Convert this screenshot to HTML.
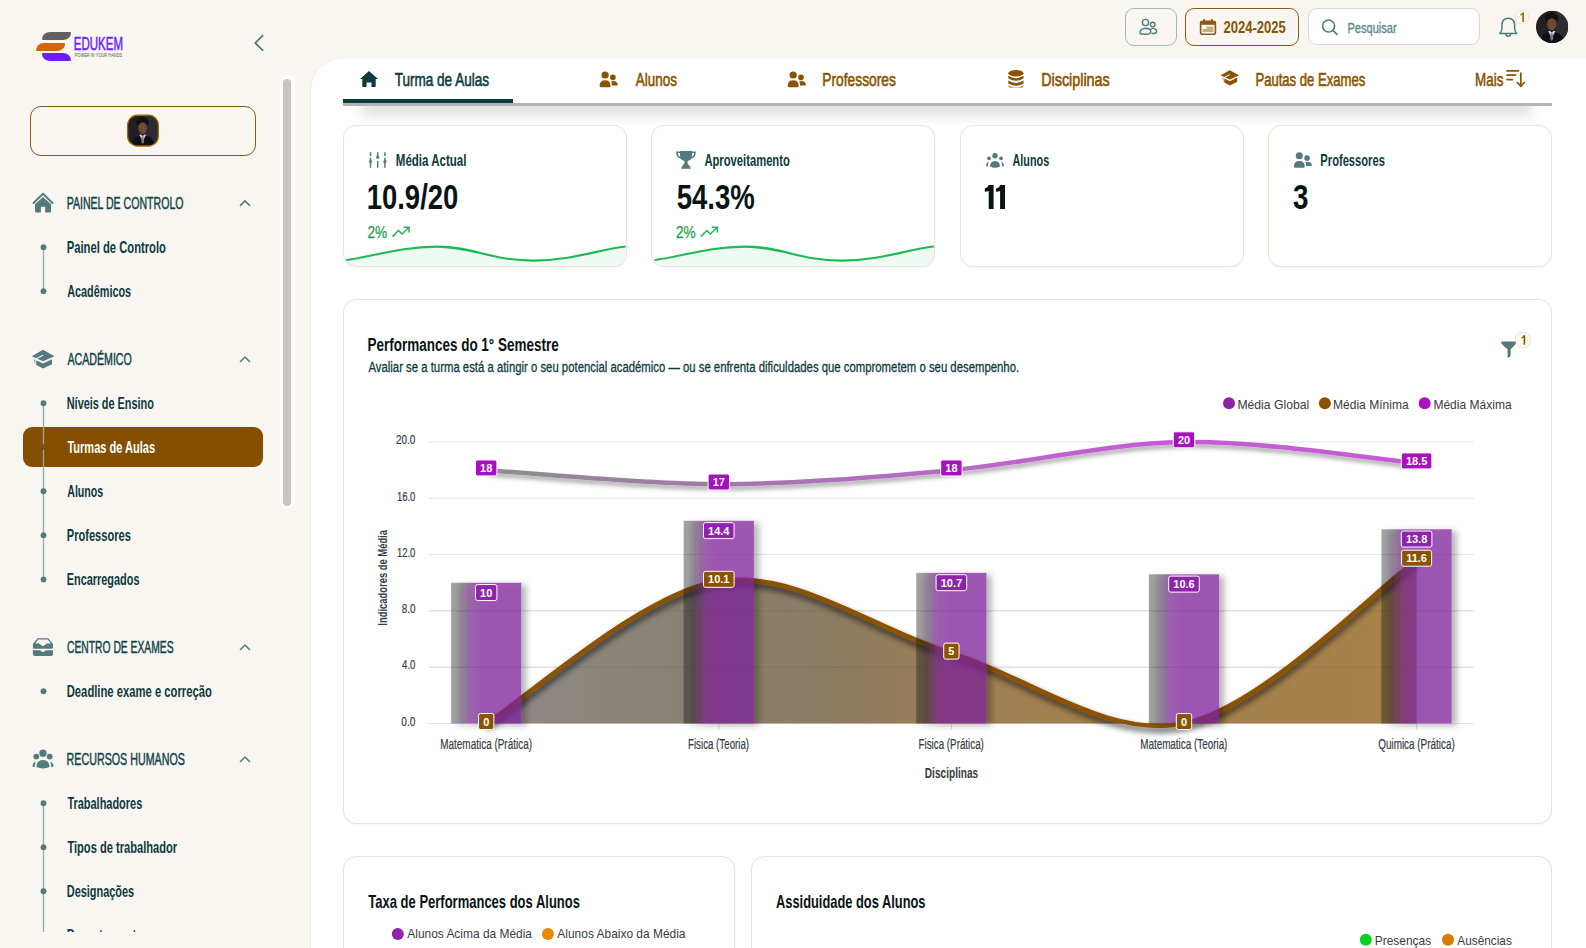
<!DOCTYPE html>
<html><head><meta charset="utf-8"><style>
html,body{margin:0;padding:0;width:1586px;height:948px;overflow:hidden;background:#f9f6f1;font-family:"Liberation Sans",sans-serif;}
#ov{position:absolute;left:0;top:0;}
#ov text{font-family:"Liberation Sans",sans-serif;}
</style></head><body>
<div style="position:absolute;left:311px;top:58.5px;width:1300px;height:1000px;background:#fff;border-top-left-radius:30px;box-shadow:-1px 0 0 #efebe5;"></div><div style="position:absolute;left:42px;top:31.6px;width:29.3px;height:8.2px;background:#616161;border-radius:9px 1px 9px 1px/8px 1px 8px 1px;"></div><div style="position:absolute;left:36px;top:42.5px;width:29px;height:8.4px;background:#d9620f;border-radius:9px 1px 9px 1px/8px 1px 8px 1px;"></div><div style="position:absolute;left:42px;top:52.7px;width:29.3px;height:8.3px;background:#6a1ff0;border-radius:1px 9px 1px 9px/1px 8px 1px 8px;"></div><div style="position:absolute;left:279.5px;top:75px;width:15.5px;height:434px;background:#fff;border-radius:8px;"></div><div style="position:absolute;left:283px;top:79px;width:8px;height:427px;background:#c6c5c1;border-radius:4px;"></div><div style="position:absolute;left:30px;top:106px;width:226px;height:50px;box-sizing:border-box;border:1.5px solid #8a5a12;border-radius:11px;"></div><div style="position:absolute;left:23px;top:427px;width:240px;height:40px;background:#844f00;border-radius:9px;"></div><div style="position:absolute;left:1125px;top:8.2px;width:52px;height:37.4px;box-sizing:border-box;border:1.3px solid #9fb9bb;border-radius:9px;"></div><div style="position:absolute;left:1185px;top:8.2px;width:114px;height:37.4px;box-sizing:border-box;border:1.4px solid #8a5a12;border-radius:9px;"></div><div style="position:absolute;left:1307.6px;top:8.1px;width:172.7px;height:37px;box-sizing:border-box;border:1.2px solid #ddd8cf;border-radius:9px;background:#fff;"></div><div style="position:absolute;left:1514.6px;top:10px;width:14.8px;height:14.3px;box-sizing:border-box;border:1px solid #efe6d6;border-radius:6px;background:#fbf8f2;"></div><div style="position:absolute;left:362px;top:92px;width:1170px;height:14px;background:#fff;box-shadow:0 9px 14px rgba(0,0,0,0.15);"></div><div style="position:absolute;left:343px;top:58.6px;width:1209px;height:44.5px;background:#fff;border-bottom:3px solid #b4b4b4;"></div><div style="position:absolute;left:343px;top:99px;width:170px;height:4px;background:#0e3b3f;"></div><div style="position:absolute;left:342.8px;top:124.7px;width:284.40000000000003px;height:142.5px;box-sizing:border-box;border:1.8px solid #e8e3db;border-radius:13px;background:#fff;box-shadow:0 1px 2px rgba(0,0,0,0.03);"></div><div style="position:absolute;left:651.2px;top:124.7px;width:284.19999999999993px;height:142.5px;box-sizing:border-box;border:1.8px solid #e8e3db;border-radius:13px;background:#fff;box-shadow:0 1px 2px rgba(0,0,0,0.03);"></div><div style="position:absolute;left:959.8px;top:124.7px;width:284.20000000000005px;height:142.5px;box-sizing:border-box;border:1.8px solid #e8e3db;border-radius:13px;background:#fff;box-shadow:0 1px 2px rgba(0,0,0,0.03);"></div><div style="position:absolute;left:1268px;top:124.7px;width:283.79999999999995px;height:142.5px;box-sizing:border-box;border:1.8px solid #e8e3db;border-radius:13px;background:#fff;box-shadow:0 1px 2px rgba(0,0,0,0.03);"></div><div style="position:absolute;left:342.8px;top:298.8px;width:1209px;height:525px;box-sizing:border-box;border:1.8px solid #e8e3db;border-radius:13px;background:#fff;box-shadow:0 1px 2px rgba(0,0,0,0.03);"></div><div style="position:absolute;left:1515.4px;top:332px;width:15.3px;height:15.7px;box-sizing:border-box;border:1px solid #efe6d6;border-radius:6px;background:#fbf8f2;"></div><div style="position:absolute;left:343px;top:856px;width:392px;height:200px;box-sizing:border-box;border:1.8px solid #e8e3db;border-radius:13px;background:#fff;box-shadow:0 1px 2px rgba(0,0,0,0.03);"></div><div style="position:absolute;left:750.8px;top:856px;width:801px;height:200px;box-sizing:border-box;border:1.8px solid #e8e3db;border-radius:13px;background:#fff;box-shadow:0 1px 2px rgba(0,0,0,0.03);"></div>
<svg id="ov" width="1586" height="948" viewBox="0 0 1586 948">
<defs><clipPath id="av1"><rect x="127.6" y="115.2" width="30.8" height="30.8" rx="10"/></clipPath><clipPath id="av2"><circle cx="1552.1" cy="26.9" r="16.1"/></clipPath><clipPath id="sbclip"><rect x="0" y="0" width="300" height="932"/></clipPath><linearGradient id="spk" x1="0" y1="0" x2="0" y2="1"><stop offset="0" stop-color="#22c55e" stop-opacity="0.09"/><stop offset="1" stop-color="#22c55e" stop-opacity="0.07"/></linearGradient><clipPath id="spc0"><rect x="344.3" y="124.7" width="281.40000000000003" height="141" rx="12"/></clipPath><clipPath id="spc1"><rect x="652.7" y="124.7" width="281.19999999999993" height="141" rx="12"/></clipPath><filter id="shA" x="-10%" y="-20%" width="120%" height="160%"><feDropShadow dx="1" dy="4" stdDeviation="3" flood-color="#000" flood-opacity="0.75"/></filter><filter id="shB" x="-30%" y="-10%" width="160%" height="130%"><feGaussianBlur in="SourceAlpha" stdDeviation="3.2"/><feOffset dx="5" dy="2" result="o"/><feFlood flood-color="#000" flood-opacity="0.38"/><feComposite in2="o" operator="in"/><feComposite in2="SourceAlpha" operator="out"/><feMerge><feMergeNode/><feMergeNode in="SourceGraphic"/></feMerge></filter><filter id="shL" x="-10%" y="-50%" width="120%" height="250%"><feDropShadow dx="1" dy="3.5" stdDeviation="2.3" flood-color="#000" flood-opacity="0.35"/></filter><linearGradient id="gA" gradientUnits="userSpaceOnUse" x1="486" y1="0" x2="1416" y2="0"><stop offset="0" stop-color="#918b8d"/><stop offset="0.2" stop-color="#878272"/><stop offset="0.38" stop-color="#8d7b62"/><stop offset="0.55" stop-color="#a08050"/><stop offset="1" stop-color="#a7834a"/></linearGradient><linearGradient id="gB" x1="0" y1="0" x2="1" y2="0"><stop offset="0" stop-color="#141414" stop-opacity="0.4"/><stop offset="0.08" stop-color="#141414" stop-opacity="0.4"/><stop offset="0.17" stop-color="#3e1a4a" stop-opacity="0.52"/><stop offset="0.3" stop-color="#76248f" stop-opacity="0.7"/><stop offset="0.45" stop-color="#7f209b" stop-opacity="0.74"/><stop offset="1" stop-color="#7f229c" stop-opacity="0.74"/></linearGradient><linearGradient id="gL" gradientUnits="userSpaceOnUse" x1="486" y1="0" x2="1416" y2="0"><stop offset="0" stop-color="#8e8e8e"/><stop offset="0.25" stop-color="#a07aa7"/><stop offset="0.5" stop-color="#b868c6"/><stop offset="0.75" stop-color="#c45bd4"/><stop offset="1" stop-color="#c45cd4"/></linearGradient></defs>
<text x="73.85" y="49.90" font-size="19.13" font-weight="400" fill="#6b1ff5" textLength="49.10" lengthAdjust="spacingAndGlyphs" stroke="#6b1ff5" stroke-width="0.55">EDUKEM</text>
<text x="74.67" y="56.50" font-size="4.64" font-weight="400" fill="#555" textLength="47.51" lengthAdjust="spacingAndGlyphs">POWER IN YOUR HANDS</text>
<polyline points="263.2,35.1 255.2,42.9 263.2,50.7" fill="none" stroke="#467074" stroke-width="1.6"/>
<g clip-path="url(#av1)"><g transform="translate(127.6,115.2) scale(0.9935483870967742)"><rect x="0" y="0" width="31" height="31" fill="#201f24"/><rect x="17" y="0" width="14" height="31" fill="#2d2c31"/><ellipse cx="15" cy="7" rx="6.5" ry="5" fill="#141010"/><ellipse cx="15.2" cy="13" rx="4.6" ry="5.8" fill="#6d4a3a"/><path d="M10.8,13 Q11,18.5 15.2,19.5 Q19.4,18.5 19.6,13 L19.6,16 Q18,20.5 15.2,20.5 Q12.4,20.5 10.8,16 Z" fill="#2a1a14"/><path d="M3,31 Q4,23 11,21 L15.2,20.5 L19.4,21 Q26.5,23 28,31 Z" fill="#0f0f16"/><path d="M11.8,19.8 L15.2,26.5 L18.6,19.8 L17,19.3 L15.2,21 L13.4,19.3 Z" fill="#d6d4dc"/><path d="M14.3,21.5 L16.1,21.5 L16.6,27 L15.2,29 L13.8,27 Z" fill="#7d7c86"/></g></g>
<rect x="127.6" y="115.2" width="30.8" height="30.8" rx="10" fill="none" stroke="#a06a00" stroke-width="1.3"/>
<text x="66.63" y="208.90" font-size="16.38" font-weight="400" fill="#0f4447" textLength="116.88" lengthAdjust="spacingAndGlyphs" stroke="#0f4447" stroke-width="0.45">PAINEL DE CONTROLO</text>
<polyline points="240,205.9 245,200.9 250,205.9" fill="none" stroke="#537a7c" stroke-width="1.5"/>
<text x="67.47" y="365.00" font-size="16.38" font-weight="400" fill="#0f4447" textLength="64.34" lengthAdjust="spacingAndGlyphs" stroke="#0f4447" stroke-width="0.45">ACADÉMICO</text>
<polyline points="240,362.0 245,357.0 250,362.0" fill="none" stroke="#537a7c" stroke-width="1.5"/>
<text x="66.98" y="653.00" font-size="16.38" font-weight="400" fill="#0f4447" textLength="106.58" lengthAdjust="spacingAndGlyphs" stroke="#0f4447" stroke-width="0.45">CENTRO DE EXAMES</text>
<polyline points="240,650.0 245,645.0 250,650.0" fill="none" stroke="#537a7c" stroke-width="1.5"/>
<text x="66.62" y="765.00" font-size="16.38" font-weight="400" fill="#0f4447" textLength="118.26" lengthAdjust="spacingAndGlyphs" stroke="#0f4447" stroke-width="0.45">RECURSOS HUMANOS</text>
<polyline points="240,762.0 245,757.0 250,762.0" fill="none" stroke="#537a7c" stroke-width="1.5"/>
<g fill="#537a7c"><polyline points="33.5,203 43,193.8 52.5,203" fill="none" stroke="#537a7c" stroke-width="1.9" stroke-linecap="round" stroke-linejoin="round"/><path d="M35,204.3 L43,197 L51.1,204.3 L51.1,211.3 Q51.1,212.6 49.8,212.6 L45.2,212.6 L45.2,206.7 L40.9,206.7 L40.9,212.6 L36.3,212.6 Q35,212.6 35,211.3 Z"/></g>
<g fill="#537a7c"><path d="M43,349.8 L54.5,356.3 L43,361.3 L31.8,356.3 Z"/><path d="M34.2,359.3 L43,363.5 L52,359.3 L52,364.2 L43,368.6 L35,364.2 Z"/><path d="M43,355.3 L36,358.8 L35.5,366" fill="none" stroke="#f9f6f1" stroke-width="1.1"/></g>
<g fill="#537a7c"><path d="M37.6,638.2 L48.2,638.2 L53,644 L53,647.5 Q53,648.8 51.7,648.8 L34.2,648.8 Q32.9,648.8 32.9,647.5 L32.9,644 Z M35.3,643.5 L39,643.5 Q40,643.5 41,645 Q42,646 43,646 Q44,646 45,645 Q46,643.5 47,643.5 L50.8,643.5 L47.8,639.6 L38.2,639.6 Z" fill-rule="evenodd"/><path d="M32.9,650.2 L39.5,650.2 Q40.5,650.2 41.2,651.2 Q42,652 43,652 Q44,652 44.8,651.2 Q45.5,650.2 46.5,650.2 L53,650.2 L53,654 Q53,656 51,656 L35,656 Q32.9,656 32.9,654 Z"/></g>
<g fill="#537a7c"><circle cx="43" cy="753.3" r="3.7"/><circle cx="36.3" cy="756.6" r="2.9"/><circle cx="49.7" cy="756.6" r="2.9"/><path d="M36.4,767 Q36.5,760.2 43,759.9 Q49.5,760.2 49.6,767 Q43,769.8 36.4,767 Z"/><path d="M35.8,761.2 Q32.6,762.8 32.3,766.6 L34.6,767.3 Q34.8,763.8 35.8,761.2 Z"/><path d="M50.2,761.2 Q53.4,762.8 53.7,766.6 L51.4,767.3 Q51.2,763.8 50.2,761.2 Z"/></g>
<line x1="43.5" y1="247.2" x2="43.5" y2="291.2" stroke="#8fa9ad" stroke-width="1.3"/>
<circle cx="43.5" cy="247.2" r="2.9" fill="#537a7c"/>
<circle cx="43.5" cy="291.2" r="2.9" fill="#537a7c"/>
<line x1="43.5" y1="403" x2="43.5" y2="579.5" stroke="#8fa9ad" stroke-width="1.3"/>
<circle cx="43.5" cy="447" r="3.1" fill="#844f00"/>
<circle cx="43.5" cy="403.2" r="2.9" fill="#537a7c"/>
<circle cx="43.5" cy="491.2" r="2.9" fill="#537a7c"/>
<circle cx="43.5" cy="535.2" r="2.9" fill="#537a7c"/>
<circle cx="43.5" cy="579.4" r="2.9" fill="#537a7c"/>
<circle cx="43.5" cy="691.2" r="2.9" fill="#537a7c"/>
<line x1="43.5" y1="803" x2="43.5" y2="932" stroke="#8fa9ad" stroke-width="1.3"/>
<circle cx="43.5" cy="803.2" r="2.9" fill="#537a7c"/>
<circle cx="43.5" cy="847.2" r="2.9" fill="#537a7c"/>
<circle cx="43.5" cy="891.2" r="2.9" fill="#537a7c"/>
<text x="66.74" y="253.20" font-size="16.81" font-weight="700" fill="#0d3a3e" textLength="99.20" lengthAdjust="spacingAndGlyphs">Painel de Controlo</text>
<text x="67.23" y="297.20" font-size="16.81" font-weight="700" fill="#0d3a3e" textLength="63.92" lengthAdjust="spacingAndGlyphs">Acadêmicos</text>
<text x="66.76" y="409.20" font-size="16.81" font-weight="700" fill="#0d3a3e" textLength="87.15" lengthAdjust="spacingAndGlyphs">Níveis de Ensino</text>
<text x="67.23" y="497.20" font-size="16.81" font-weight="700" fill="#0d3a3e" textLength="36.00" lengthAdjust="spacingAndGlyphs">Alunos</text>
<text x="66.75" y="541.20" font-size="16.81" font-weight="700" fill="#0d3a3e" textLength="64.10" lengthAdjust="spacingAndGlyphs">Professores</text>
<text x="66.76" y="585.40" font-size="16.81" font-weight="700" fill="#0d3a3e" textLength="72.70" lengthAdjust="spacingAndGlyphs">Encarregados</text>
<text x="66.74" y="697.20" font-size="16.81" font-weight="700" fill="#0d3a3e" textLength="145.10" lengthAdjust="spacingAndGlyphs">Deadline exame e correção</text>
<text x="67.39" y="809.20" font-size="16.81" font-weight="700" fill="#0d3a3e" textLength="74.86" lengthAdjust="spacingAndGlyphs">Trabalhadores</text>
<text x="67.39" y="853.20" font-size="16.81" font-weight="700" fill="#0d3a3e" textLength="109.78" lengthAdjust="spacingAndGlyphs">Tipos de trabalhador</text>
<text x="66.76" y="897.20" font-size="16.81" font-weight="700" fill="#0d3a3e" textLength="67.40" lengthAdjust="spacingAndGlyphs">Designações</text>
<text x="67.39" y="453.10" font-size="16.81" font-weight="700" fill="#ffffff" textLength="87.78" lengthAdjust="spacingAndGlyphs">Turmas de Aulas</text>
<g clip-path="url(#sbclip)">
<text x="66.73" y="941.20" font-size="16.81" font-weight="700" fill="#0d3a3e" textLength="82.72" lengthAdjust="spacingAndGlyphs">Departamentos</text>
<circle cx="43.5" cy="935.2" r="2.9" fill="#537a7c"/>
</g>
<g fill="none" stroke="#4f7a7d" stroke-width="1.4"><circle cx="1145.5" cy="22.5" r="3.1"/><circle cx="1152.7" cy="24.6" r="2.3"/><path d="M1140.2,33.6 Q1139,29 1145.5,28.2 Q1150.5,28.2 1150.8,31.5 Q1151,34.2 1145.5,34.2 Q1141,34.3 1140.2,33.6 Z"/><path d="M1150.6,29.8 Q1151.5,28.3 1153,28.4 Q1156.8,28.8 1156.6,32 Q1156,33.8 1151.5,33.5"/></g>
<g><rect x="1200.6" y="21.2" width="14.8" height="13" rx="2" fill="none" stroke="#8a5a12" stroke-width="1.6"/><rect x="1200.6" y="21.2" width="14.8" height="3.6" fill="#8a5a12"/><rect x="1203.4" y="19" width="1.6" height="4" fill="#8a5a12"/><rect x="1211" y="19" width="1.6" height="4" fill="#8a5a12"/><path d="M1202.6,32 L1202.6,29 L1206.5,29 L1206.5,26.5 L1213.4,26.5 L1213.4,32 Z" fill="#c8ac82"/></g>
<text x="1223.54" y="32.80" font-size="15.65" font-weight="700" fill="#8a5300" textLength="62.24" lengthAdjust="spacingAndGlyphs">2024-2025</text>
<g fill="none" stroke="#4f7a7d" stroke-width="1.6"><circle cx="1328.6" cy="26" r="6"/><line x1="1332.9" y1="30.3" x2="1337.6" y2="34.8"/></g>
<text x="1347.39" y="32.80" font-size="15.36" font-weight="400" fill="#5a8a8d" textLength="49.27" lengthAdjust="spacingAndGlyphs" stroke="#5a8a8d" stroke-width="0.35">Pesquisar</text>
<g fill="none" stroke="#4f7a7d" stroke-width="1.5"><path d="M1499.8,33.6 Q1502,31.5 1502,27.5 L1502,25 Q1502,18.2 1508.3,18.2 Q1514.6,18.2 1514.6,25 L1514.6,27.5 Q1514.6,31.5 1516.8,33.6 Z" stroke-linejoin="round"/><path d="M1506,34 Q1506,36.3 1508.3,36.3 Q1510.6,36.3 1510.6,34"/></g>
<path d="M1522.3,12.4 L1523.9,12.4 L1523.9,22 L1522.3,22 L1522.3,14.6 Q1521.4,15.4 1520.4,15.6 L1520.4,14.3 Q1521.7,13.7 1522.3,12.4 Z" fill="#9a6000"/>
<g clip-path="url(#av2)"><g transform="translate(1536,10.8) scale(1.038709677419355)"><rect x="0" y="0" width="31" height="31" fill="#201f24"/><rect x="17" y="0" width="14" height="31" fill="#2d2c31"/><ellipse cx="15" cy="7" rx="6.5" ry="5" fill="#141010"/><ellipse cx="15.2" cy="13" rx="4.6" ry="5.8" fill="#6d4a3a"/><path d="M10.8,13 Q11,18.5 15.2,19.5 Q19.4,18.5 19.6,13 L19.6,16 Q18,20.5 15.2,20.5 Q12.4,20.5 10.8,16 Z" fill="#2a1a14"/><path d="M3,31 Q4,23 11,21 L15.2,20.5 L19.4,21 Q26.5,23 28,31 Z" fill="#0f0f16"/><path d="M11.8,19.8 L15.2,26.5 L18.6,19.8 L17,19.3 L15.2,21 L13.4,19.3 Z" fill="#d6d4dc"/><path d="M14.3,21.5 L16.1,21.5 L16.6,27 L15.2,29 L13.8,27 Z" fill="#7d7c86"/></g></g>
<path fill="#0e3b3f" d="M369,71 L378,79 L375.7,79 L375.7,86.2 Q375.7,87 374.9,87 L371.5,87 L371.5,82.5 L366.5,82.5 L366.5,87 L363.1,87 Q362.3,87 362.3,86.2 L362.3,79 L360,79 Z"/>
<text x="394.70" y="86.00" font-size="18.55" font-weight="400" fill="#0e3b3f" textLength="94.37" lengthAdjust="spacingAndGlyphs" stroke="#0e3b3f" stroke-width="0.6">Turma de Aulas</text>
<g fill="#8a5300" transform="translate(599.6,71.4) scale(1.0)"><circle cx="5.5" cy="3.6" r="3.6"/><circle cx="13.3" cy="6" r="2.8"/><path d="M0,14.5 Q0,8.8 5.5,8.8 Q11,8.8 11,14.5 Q11,15.8 9.5,15.8 L1.5,15.8 Q0,15.8 0,14.5 Z"/><path d="M11.5,10.2 Q12.5,9.6 13.6,9.6 Q18.2,9.8 18.2,14 L12.3,14 Q12.4,11.8 11.5,10.2 Z"/></g>
<text x="635.87" y="86.00" font-size="18.55" font-weight="400" fill="#8a5300" textLength="41.11" lengthAdjust="spacingAndGlyphs" stroke="#8a5300" stroke-width="0.6">Alunos</text>
<g fill="#8a5300" transform="translate(787.7,71.4) scale(1.0)"><circle cx="5.5" cy="3.6" r="3.6"/><circle cx="13.3" cy="6" r="2.8"/><path d="M0,14.5 Q0,8.8 5.5,8.8 Q11,8.8 11,14.5 Q11,15.8 9.5,15.8 L1.5,15.8 Q0,15.8 0,14.5 Z"/><path d="M11.5,10.2 Q12.5,9.6 13.6,9.6 Q18.2,9.8 18.2,14 L12.3,14 Q12.4,11.8 11.5,10.2 Z"/></g>
<text x="822.36" y="86.00" font-size="18.55" font-weight="400" fill="#8a5300" textLength="73.42" lengthAdjust="spacingAndGlyphs" stroke="#8a5300" stroke-width="0.6">Professores</text>
<g fill="#8a5300"><ellipse cx="1015.9" cy="73.2" rx="7.6" ry="3.2"/><path d="M1008.3,75.8 Q1015.9,80.5 1023.5,75.8 L1023.5,78.4 Q1015.9,83 1008.3,78.4 Z"/><path d="M1008.3,80.6 Q1015.9,85.3 1023.5,80.6 L1023.5,83.4 Q1015.9,88 1008.3,83.4 Z"/><path d="M1008.3,85.4 Q1015.9,90 1023.5,85.4 L1023.5,85.8 Q1023.5,88 1015.9,88 Q1008.3,88 1008.3,85.8 Z"/></g>
<text x="1041.22" y="86.00" font-size="18.55" font-weight="400" fill="#8a5300" textLength="68.48" lengthAdjust="spacingAndGlyphs" stroke="#8a5300" stroke-width="0.6">Disciplinas</text>
<g fill="#8a5300"><path d="M1229.8,70.2 L1239.2,75.3 L1229.8,79.6 L1220.5,75.3 Z"/><path d="M1222.5,77.6 L1229.8,81.2 L1237.2,77.6 L1237.2,81.8 L1229.8,85.5 L1223.2,81.8 Z"/><path d="M1229.8,74.6 L1224,77.6 L1223.6,83.5" fill="none" stroke="#fff" stroke-width="1"/></g>
<text x="1255.42" y="86.00" font-size="18.55" font-weight="400" fill="#8a5300" textLength="109.82" lengthAdjust="spacingAndGlyphs" stroke="#8a5300" stroke-width="0.6">Pautas de Exames</text>
<text x="1475.09" y="86.00" font-size="18.55" font-weight="400" fill="#8a5300" textLength="28.36" lengthAdjust="spacingAndGlyphs" stroke="#8a5300" stroke-width="0.6">Mais</text>
<g stroke="#8a5300" stroke-width="1.7" fill="none" stroke-linecap="round"><line x1="1507" y1="70.8" x2="1518.5" y2="70.8"/><line x1="1507" y1="75.2" x2="1515.5" y2="75.2"/><line x1="1507" y1="79.6" x2="1512.5" y2="79.6"/><line x1="1520.8" y1="73" x2="1520.8" y2="86"/><polyline points="1517.3,82.5 1520.8,86.2 1524.3,82.5"/></g>
<g clip-path="url(#spc0)"><path d="M342.8,260.6 C371.2,257.2 399.7,246.6 436.7,246.6 C473.6,246.6 490.7,260.6 533.3,260.6 C570.3,260.6 598.8,249.5 627.2,246.4 L627.2,270 L342.8,270 Z" fill="url(#spk)"/><path d="M342.8,260.6 C371.2,257.2 399.7,246.6 436.7,246.6 C473.6,246.6 490.7,260.6 533.3,260.6 C570.3,260.6 598.8,249.5 627.2,246.4" fill="none" stroke="#1cb956" stroke-width="2.1"/></g>
<g clip-path="url(#spc1)"><path d="M651.2,260.6 C679.6,257.2 708.0,246.6 745.0,246.6 C781.9,246.6 799.0,260.6 841.6,260.6 C878.6,260.6 907.0,249.5 935.4,246.4 L935.4,270 L651.2,270 Z" fill="url(#spk)"/><path d="M651.2,260.6 C679.6,257.2 708.0,246.6 745.0,246.6 C781.9,246.6 799.0,260.6 841.6,260.6 C878.6,260.6 907.0,249.5 935.4,246.4" fill="none" stroke="#1cb956" stroke-width="2.1"/></g>
<g fill="#537a7c" stroke="#537a7c"><line x1="370.5" y1="152.3" x2="370.5" y2="167.8" stroke-width="1.5" stroke-dasharray="3.6 1.8 20"/><line x1="377.7" y1="152.3" x2="377.7" y2="167.8" stroke-width="1.5" stroke-dasharray="6.2 2.5 20"/><line x1="384.9" y1="152.3" x2="384.9" y2="167.8" stroke-width="1.5" stroke-dasharray="3.6 1.8 20"/><circle cx="370.5" cy="161.5" r="1.6" stroke="none"/><circle cx="377.7" cy="157.2" r="1.6" stroke="none"/><circle cx="384.9" cy="161.5" r="1.6" stroke="none"/></g>
<text x="395.82" y="166.20" font-size="16.23" font-weight="700" fill="#0d3a3e" textLength="70.60" lengthAdjust="spacingAndGlyphs">Média Actual</text>
<text x="366.68" y="209.20" font-size="35.65" font-weight="700" fill="#0a1414" textLength="91.66" lengthAdjust="spacingAndGlyphs">10.9/20</text>
<text x="367.52" y="237.80" font-size="16.23" font-weight="400" fill="#1d9e4c" textLength="19.77" lengthAdjust="spacingAndGlyphs" stroke="#1d9e4c" stroke-width="0.25">2%</text>
<polyline points="392.5,236.6 398.5,230.5 402,234 408.6,227.5" fill="none" stroke="#22b457" stroke-width="1.5"/><polyline points="403.5,227.3 409,227.3 409,232.6" fill="none" stroke="#22b457" stroke-width="1.5"/>
<g fill="#537a7c"><path d="M680,151 L692,151 L692,155.5 Q692,160.2 687.6,161 L687.6,163.6 L690,166.6 L691,168.8 L681,168.8 L682,166.6 L684.4,163.6 L684.4,161 Q680,160.2 680,155.5 Z"/><path d="M680.3,152.3 L677,152.3 Q676.9,157.5 681.5,158" fill="none" stroke="#537a7c" stroke-width="1.5"/><path d="M691.7,152.3 L695,152.3 Q695.1,157.5 690.5,158" fill="none" stroke="#537a7c" stroke-width="1.5"/></g>
<text x="704.42" y="165.50" font-size="16.23" font-weight="700" fill="#0d3a3e" textLength="85.40" lengthAdjust="spacingAndGlyphs">Aproveitamento</text>
<text x="676.67" y="209.10" font-size="35.36" font-weight="700" fill="#0a1414" textLength="78.03" lengthAdjust="spacingAndGlyphs">54.3%</text>
<text x="675.92" y="237.60" font-size="16.23" font-weight="400" fill="#1d9e4c" textLength="19.66" lengthAdjust="spacingAndGlyphs" stroke="#1d9e4c" stroke-width="0.25">2%</text>
<polyline points="700.8,236.6 706.8,230.5 710.3,234 716.9,227.5" fill="none" stroke="#22b457" stroke-width="1.5"/><polyline points="711.8,227.3 717.3,227.3 717.3,232.6" fill="none" stroke="#22b457" stroke-width="1.5"/>
<g fill="#537a7c"><circle cx="995" cy="155.8" r="2.7"/><circle cx="989" cy="158.3" r="1.9"/><circle cx="1001" cy="158.3" r="1.9"/><path d="M990,166.5 Q990.2,161.2 995,161 Q999.8,161.2 1000,166.5 Q995,169 990,166.5 Z"/><path d="M988.5,161.5 Q986,162.6 985.9,166 L987.9,166.6 Q987.9,163.6 988.5,161.5 Z"/><path d="M1001.5,161.5 Q1004,162.6 1004.1,166 L1002.1,166.6 Q1002.1,163.6 1001.5,161.5 Z"/></g>
<text x="1012.53" y="166.00" font-size="16.23" font-weight="700" fill="#0d3a3e" textLength="36.62" lengthAdjust="spacingAndGlyphs">Alunos</text>
<path fill="#0a1414" d="M988.70,184.90 L993.60,184.90 L993.60,209.10 L988.70,209.10 L988.70,190.90 Q986.80,191.40 984.80,191.70 L984.80,188.50 Q988.20,187.50 988.70,184.90 Z"/>
<path fill="#0a1414" d="M1000.10,184.90 L1005.00,184.90 L1005.00,209.10 L1000.10,209.10 L1000.10,190.90 Q998.00,191.40 996.00,191.70 L996.00,188.50 Q999.60,187.50 1000.10,184.90 Z"/>
<g fill="#537a7c" transform="translate(1293.9,152.2) scale(0.99)"><circle cx="5.5" cy="3.6" r="3.6"/><circle cx="13.3" cy="6" r="2.8"/><path d="M0,14.5 Q0,8.8 5.5,8.8 Q11,8.8 11,14.5 Q11,15.8 9.5,15.8 L1.5,15.8 Q0,15.8 0,14.5 Z"/><path d="M11.5,10.2 Q12.5,9.6 13.6,9.6 Q18.2,9.8 18.2,14 L12.3,14 Q12.4,11.8 11.5,10.2 Z"/></g>
<text x="1320.35" y="166.00" font-size="16.23" font-weight="700" fill="#0d3a3e" textLength="64.51" lengthAdjust="spacingAndGlyphs">Professores</text>
<text x="1292.98" y="209.10" font-size="35.36" font-weight="700" fill="#0a1414" textLength="15.43" lengthAdjust="spacingAndGlyphs">3</text>
<text x="367.59" y="350.50" font-size="17.54" font-weight="700" fill="#0a1414" textLength="191.07" lengthAdjust="spacingAndGlyphs">Performances do 1° Semestre</text>
<text x="368.47" y="371.80" font-size="15.36" font-weight="400" fill="#0d3a3e" textLength="650.64" lengthAdjust="spacingAndGlyphs" stroke="#0d3a3e" stroke-width="0.3">Avaliar se a turma está a atingir o seu potencial académico — ou se enfrenta dificuldades que comprometem o seu desempenho.</text>
<path fill="#537a7c" d="M1501,342.8 Q1501,341.6 1503,341.6 L1514.5,341.6 Q1516.6,341.6 1516,343.2 Q1514.5,346 1510.6,349.2 L1510.6,355.6 Q1510.2,357.6 1507.6,357.9 L1507.6,349.2 Q1503,346 1501,342.8 Z"/>
<path d="M1523.6,335.3 L1525.2,335.3 L1525.2,344.8 L1523.6,344.8 L1523.6,337.5 Q1522.7,338.3 1521.6,338.5 L1521.6,337.2 Q1523,336.6 1523.6,335.3 Z" fill="#8a5300"/>
<text x="368.37" y="907.80" font-size="17.97" font-weight="700" fill="#0a1414" textLength="211.56" lengthAdjust="spacingAndGlyphs">Taxa de Performances dos Alunos</text>
<text x="775.98" y="907.90" font-size="17.97" font-weight="700" fill="#0a1414" textLength="149.55" lengthAdjust="spacingAndGlyphs">Assiduidade dos Alunos</text>
<line x1="429" y1="723.5" x2="1473.6" y2="723.5" stroke="#e4e4e4" stroke-width="1"/>
<line x1="429" y1="667.2" x2="1473.6" y2="667.2" stroke="#e4e4e4" stroke-width="1"/>
<line x1="429" y1="610.9" x2="1473.6" y2="610.9" stroke="#e4e4e4" stroke-width="1"/>
<line x1="429" y1="554.6" x2="1473.6" y2="554.6" stroke="#e4e4e4" stroke-width="1"/>
<line x1="429" y1="498.3" x2="1473.6" y2="498.3" stroke="#e4e4e4" stroke-width="1"/>
<line x1="429" y1="442.0" x2="1473.6" y2="442.0" stroke="#e4e4e4" stroke-width="1"/>
<line x1="486.2" y1="723.5" x2="486.2" y2="729.5" stroke="#d8d8d8" stroke-width="1"/>
<line x1="718.8" y1="723.5" x2="718.8" y2="729.5" stroke="#d8d8d8" stroke-width="1"/>
<line x1="951.4" y1="723.5" x2="951.4" y2="729.5" stroke="#d8d8d8" stroke-width="1"/>
<line x1="1184.0" y1="723.5" x2="1184.0" y2="729.5" stroke="#d8d8d8" stroke-width="1"/>
<line x1="1416.6" y1="723.5" x2="1416.6" y2="729.5" stroke="#d8d8d8" stroke-width="1"/>
<text x="401.29" y="725.70" font-size="12.46" font-weight="400" fill="#373d3f" textLength="14.09" lengthAdjust="spacingAndGlyphs" stroke="#373d3f" stroke-width="0.2">0.0</text>
<text x="402.09" y="669.40" font-size="12.46" font-weight="400" fill="#373d3f" textLength="13.27" lengthAdjust="spacingAndGlyphs" stroke="#373d3f" stroke-width="0.2">4.0</text>
<text x="401.68" y="613.10" font-size="12.46" font-weight="400" fill="#373d3f" textLength="13.69" lengthAdjust="spacingAndGlyphs" stroke="#373d3f" stroke-width="0.2">8.0</text>
<text x="396.99" y="556.80" font-size="12.46" font-weight="400" fill="#373d3f" textLength="18.37" lengthAdjust="spacingAndGlyphs" stroke="#373d3f" stroke-width="0.2">12.0</text>
<text x="396.89" y="500.50" font-size="12.46" font-weight="400" fill="#373d3f" textLength="18.48" lengthAdjust="spacingAndGlyphs" stroke="#373d3f" stroke-width="0.2">16.0</text>
<text x="396.00" y="444.20" font-size="12.46" font-weight="400" fill="#373d3f" textLength="19.39" lengthAdjust="spacingAndGlyphs" stroke="#373d3f" stroke-width="0.2">20.0</text>
<g transform="translate(386.6,577.5) rotate(-90)">
<text x="-48.13" y="0" font-size="13.62" font-weight="700" fill="#373d3f" textLength="95.59" lengthAdjust="spacingAndGlyphs">Indicadores de Média</text></g>
<text x="924.82" y="778.30" font-size="13.91" font-weight="700" fill="#373d3f" textLength="53.39" lengthAdjust="spacingAndGlyphs">Disciplinas</text>
<text x="440.28" y="748.70" font-size="14.06" font-weight="400" fill="#373d3f" textLength="91.72" lengthAdjust="spacingAndGlyphs" stroke="#373d3f" stroke-width="0.2">Matematica (Prática)</text>
<text x="688.00" y="748.70" font-size="14.06" font-weight="400" fill="#373d3f" textLength="61.10" lengthAdjust="spacingAndGlyphs" stroke="#373d3f" stroke-width="0.2">Fisica (Teoria)</text>
<text x="918.49" y="748.70" font-size="14.06" font-weight="400" fill="#373d3f" textLength="65.40" lengthAdjust="spacingAndGlyphs" stroke="#373d3f" stroke-width="0.2">Fisica (Prática)</text>
<text x="1140.19" y="748.70" font-size="14.06" font-weight="400" fill="#373d3f" textLength="87.22" lengthAdjust="spacingAndGlyphs" stroke="#373d3f" stroke-width="0.2">Matematica (Teoria)</text>
<text x="1378.23" y="748.70" font-size="14.06" font-weight="400" fill="#373d3f" textLength="76.48" lengthAdjust="spacingAndGlyphs" stroke="#373d3f" stroke-width="0.2">Quimica (Prática)</text>
<path d="M486.20,723.50 C524.97,699.81 641.27,593.07 718.80,581.34 C796.33,569.61 873.87,629.43 951.40,653.12 C1028.93,676.82 1106.47,738.98 1184.00,723.50 C1261.53,708.02 1377.83,587.44 1416.60,560.23 L1416.60,723.5 L486.20,723.5 Z" fill="url(#gA)"/>
<line x1="429" y1="667.2" x2="1473.6" y2="667.2" stroke="#000" stroke-opacity="0.08" stroke-width="1"/>
<line x1="429" y1="610.9" x2="1473.6" y2="610.9" stroke="#000" stroke-opacity="0.08" stroke-width="1"/>
<path d="M486.20,723.50 C524.97,699.81 641.27,593.07 718.80,581.34 C796.33,569.61 873.87,629.43 951.40,653.12 C1028.93,676.82 1106.47,738.98 1184.00,723.50 C1261.53,708.02 1377.83,587.44 1416.60,560.23" fill="none" stroke="#8b5300" stroke-width="4.6" filter="url(#shA)"/>
<rect x="451.10" y="582.75" width="70.2" height="140.75" fill="url(#gB)" filter="url(#shB)"/>
<rect x="683.70" y="520.82" width="70.2" height="202.68" fill="url(#gB)" filter="url(#shB)"/>
<rect x="916.30" y="572.90" width="70.2" height="150.60" fill="url(#gB)" filter="url(#shB)"/>
<rect x="1148.90" y="574.31" width="70.2" height="149.19" fill="url(#gB)" filter="url(#shB)"/>
<rect x="1381.50" y="529.26" width="70.2" height="194.24" fill="url(#gB)" filter="url(#shB)"/>
<path d="M486.20,470.15 C524.97,472.50 641.27,484.23 718.80,484.23 C796.33,484.23 873.87,477.19 951.40,470.15 C1028.93,463.11 1106.47,443.17 1184.00,442.00 C1261.53,440.83 1377.83,459.59 1416.60,463.11" fill="none" stroke="url(#gL)" stroke-width="4.5" filter="url(#shL)"/>
<rect x="475.48" y="584.55" width="21.44" height="16" rx="2" fill="#8e24aa" stroke="#fff" stroke-width="1"/>
<text x="486.20" y="596.55" font-size="11" font-weight="700" fill="#fff" text-anchor="middle">10</text>
<rect x="703.49" y="522.62" width="30.61" height="16" rx="2" fill="#8e24aa" stroke="#fff" stroke-width="1"/>
<text x="718.80" y="534.62" font-size="11" font-weight="700" fill="#fff" text-anchor="middle">14.4</text>
<rect x="936.09" y="574.70" width="30.61" height="16" rx="2" fill="#8e24aa" stroke="#fff" stroke-width="1"/>
<text x="951.40" y="586.70" font-size="11" font-weight="700" fill="#fff" text-anchor="middle">10.7</text>
<rect x="1168.69" y="576.11" width="30.61" height="16" rx="2" fill="#8e24aa" stroke="#fff" stroke-width="1"/>
<text x="1184.00" y="588.11" font-size="11" font-weight="700" fill="#fff" text-anchor="middle">10.6</text>
<rect x="1401.29" y="531.06" width="30.61" height="16" rx="2" fill="#8e24aa" stroke="#fff" stroke-width="1"/>
<text x="1416.60" y="543.06" font-size="11" font-weight="700" fill="#fff" text-anchor="middle">13.8</text>
<rect x="478.54" y="713.50" width="15.32" height="16" rx="2" fill="#8b5300" stroke="#fff" stroke-width="1"/>
<text x="486.20" y="725.50" font-size="11" font-weight="700" fill="#fff" text-anchor="middle">0</text>
<rect x="703.49" y="571.34" width="30.61" height="16" rx="2" fill="#8b5300" stroke="#fff" stroke-width="1"/>
<text x="718.80" y="583.34" font-size="11" font-weight="700" fill="#fff" text-anchor="middle">10.1</text>
<rect x="943.74" y="643.12" width="15.32" height="16" rx="2" fill="#8b5300" stroke="#fff" stroke-width="1"/>
<text x="951.40" y="655.12" font-size="11" font-weight="700" fill="#fff" text-anchor="middle">5</text>
<rect x="1176.34" y="713.50" width="15.32" height="16" rx="2" fill="#8b5300" stroke="#fff" stroke-width="1"/>
<text x="1184.00" y="725.50" font-size="11" font-weight="700" fill="#fff" text-anchor="middle">0</text>
<rect x="1401.60" y="550.23" width="30.00" height="16" rx="2" fill="#8b5300" stroke="#fff" stroke-width="1"/>
<text x="1416.60" y="562.23" font-size="11" font-weight="700" fill="#fff" text-anchor="middle">11.6</text>
<rect x="475.48" y="459.95" width="21.44" height="16" rx="2" fill="#a80fbf" stroke="#fff" stroke-width="1"/>
<text x="486.20" y="471.95" font-size="11" font-weight="700" fill="#fff" text-anchor="middle">18</text>
<rect x="708.08" y="474.03" width="21.44" height="16" rx="2" fill="#a80fbf" stroke="#fff" stroke-width="1"/>
<text x="718.80" y="486.03" font-size="11" font-weight="700" fill="#fff" text-anchor="middle">17</text>
<rect x="940.68" y="459.95" width="21.44" height="16" rx="2" fill="#a80fbf" stroke="#fff" stroke-width="1"/>
<text x="951.40" y="471.95" font-size="11" font-weight="700" fill="#fff" text-anchor="middle">18</text>
<rect x="1173.28" y="431.80" width="21.44" height="16" rx="2" fill="#a80fbf" stroke="#fff" stroke-width="1"/>
<text x="1184.00" y="443.80" font-size="11" font-weight="700" fill="#fff" text-anchor="middle">20</text>
<rect x="1401.29" y="452.91" width="30.61" height="16" rx="2" fill="#a80fbf" stroke="#fff" stroke-width="1"/>
<text x="1416.60" y="464.91" font-size="11" font-weight="700" fill="#fff" text-anchor="middle">18.5</text>
<circle cx="1229" cy="403.3" r="6" fill="#8e24aa"/>
<text x="1237.39" y="409.10" font-size="12.90" font-weight="400" fill="#373d3f" textLength="71.93" lengthAdjust="spacingAndGlyphs">Média Global</text>
<circle cx="1324.85" cy="403.3" r="6" fill="#8b5300"/>
<text x="1333.01" y="409.10" font-size="12.90" font-weight="400" fill="#373d3f" textLength="75.66" lengthAdjust="spacingAndGlyphs">Média Mínima</text>
<circle cx="1424.65" cy="403.3" r="6" fill="#b10dc9"/>
<text x="1433.41" y="409.10" font-size="12.90" font-weight="400" fill="#373d3f" textLength="78.19" lengthAdjust="spacingAndGlyphs">Média Máxima</text>
<circle cx="397.8" cy="934" r="6" fill="#8e24aa"/>
<text x="407.27" y="938.10" font-size="12.90" font-weight="400" fill="#373d3f" textLength="124.71" lengthAdjust="spacingAndGlyphs">Alunos Acima da Média</text>
<circle cx="547.9" cy="934" r="6" fill="#e68a00"/>
<text x="557.37" y="938.10" font-size="12.90" font-weight="400" fill="#373d3f" textLength="128.13" lengthAdjust="spacingAndGlyphs">Alunos Abaixo da Média</text>
<circle cx="1365.8" cy="939.8" r="6" fill="#00d21d"/>
<text x="1374.72" y="944.90" font-size="12.90" font-weight="400" fill="#373d3f" textLength="56.40" lengthAdjust="spacingAndGlyphs">Presenças</text>
<circle cx="1448" cy="939.8" r="6" fill="#d97a00"/>
<text x="1457.37" y="944.90" font-size="12.90" font-weight="400" fill="#373d3f" textLength="54.43" lengthAdjust="spacingAndGlyphs">Ausências</text>
</svg>
</body></html>
